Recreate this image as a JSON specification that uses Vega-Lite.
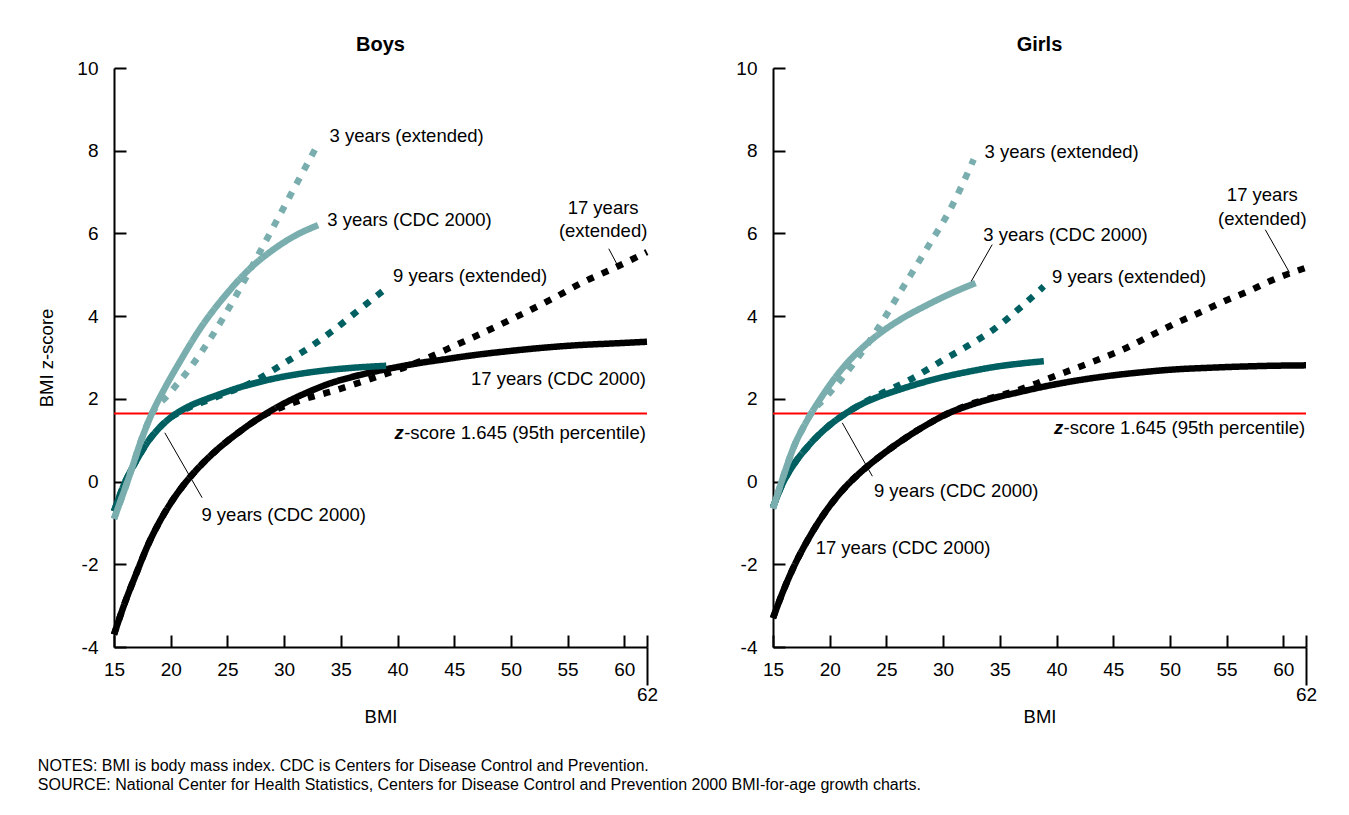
{
  "$schema": "https://vega.github.io/schema/vega-lite/v6.json",
  "padding": {"left": 37, "top": 35, "right": 5, "bottom": 5},
  "config": {
    "font": "Liberation Sans",
    "view": {"stroke": null},
    "axis": {"domainColor": "#000000", "domainWidth": 2, "tickColor": "#000000", "tickWidth": 2, "labelColor": "#000000", "labelFontSize": 19, "titleFontSize": 18.5, "titleColor": "#000000", "titleFontWeight": "normal", "grid": false, "labelFlush": false, "labelOverlap": false},
    "title": {"fontSize": 20, "fontWeight": "bold", "color": "#000000"}
  },
  "title": {"text": ["NOTES: BMI is body mass index. CDC is Centers for Disease Control and Prevention.", "SOURCE: National Center for Health Statistics, Centers for Disease Control and Prevention 2000 BMI-for-age growth charts."], "orient": "bottom", "anchor": "start", "frame": "bounds", "fontSize": 16, "fontWeight": "normal", "lineHeight": 19, "offset": 32, "baseline": "top"},
  "datasets": {
    "curves": [
      {"sex":"Boys","age":"17 years","method":"extended","bmi":15,"z":-3.7},
      {"sex":"Boys","age":"17 years","method":"extended","bmi":16,"z":-2.9},
      {"sex":"Boys","age":"17 years","method":"extended","bmi":17,"z":-2.2},
      {"sex":"Boys","age":"17 years","method":"extended","bmi":18,"z":-1.53},
      {"sex":"Boys","age":"17 years","method":"extended","bmi":19,"z":-0.98},
      {"sex":"Boys","age":"17 years","method":"extended","bmi":20,"z":-0.52},
      {"sex":"Boys","age":"17 years","method":"extended","bmi":21,"z":-0.13},
      {"sex":"Boys","age":"17 years","method":"extended","bmi":22,"z":0.2},
      {"sex":"Boys","age":"17 years","method":"extended","bmi":23,"z":0.49},
      {"sex":"Boys","age":"17 years","method":"extended","bmi":24,"z":0.75},
      {"sex":"Boys","age":"17 years","method":"extended","bmi":25,"z":0.98},
      {"sex":"Boys","age":"17 years","method":"extended","bmi":26,"z":1.19},
      {"sex":"Boys","age":"17 years","method":"extended","bmi":27,"z":1.39},
      {"sex":"Boys","age":"17 years","method":"extended","bmi":28,"z":1.57},
      {"sex":"Boys","age":"17 years","method":"extended","bmi":30,"z":1.82},
      {"sex":"Boys","age":"17 years","method":"extended","bmi":31.5,"z":1.97},
      {"sex":"Boys","age":"17 years","method":"extended","bmi":34.45,"z":2.2},
      {"sex":"Boys","age":"17 years","method":"extended","bmi":36.5,"z":2.38},
      {"sex":"Boys","age":"17 years","method":"extended","bmi":38.7,"z":2.58},
      {"sex":"Boys","age":"17 years","method":"extended","bmi":41,"z":2.8},
      {"sex":"Boys","age":"17 years","method":"extended","bmi":43,"z":3.03},
      {"sex":"Boys","age":"17 years","method":"extended","bmi":45,"z":3.28},
      {"sex":"Boys","age":"17 years","method":"extended","bmi":47.4,"z":3.58},
      {"sex":"Boys","age":"17 years","method":"extended","bmi":50,"z":3.92},
      {"sex":"Boys","age":"17 years","method":"extended","bmi":51.8,"z":4.16},
      {"sex":"Boys","age":"17 years","method":"extended","bmi":54,"z":4.47},
      {"sex":"Boys","age":"17 years","method":"extended","bmi":56.2,"z":4.8},
      {"sex":"Boys","age":"17 years","method":"extended","bmi":59,"z":5.15},
      {"sex":"Boys","age":"17 years","method":"extended","bmi":62,"z":5.55},

      {"sex":"Boys","age":"17 years","method":"CDC 2000","bmi":15,"z":-3.7},
      {"sex":"Boys","age":"17 years","method":"CDC 2000","bmi":16,"z":-2.9},
      {"sex":"Boys","age":"17 years","method":"CDC 2000","bmi":17,"z":-2.2},
      {"sex":"Boys","age":"17 years","method":"CDC 2000","bmi":18,"z":-1.53},
      {"sex":"Boys","age":"17 years","method":"CDC 2000","bmi":19,"z":-0.98},
      {"sex":"Boys","age":"17 years","method":"CDC 2000","bmi":20,"z":-0.52},
      {"sex":"Boys","age":"17 years","method":"CDC 2000","bmi":21,"z":-0.13},
      {"sex":"Boys","age":"17 years","method":"CDC 2000","bmi":22,"z":0.2},
      {"sex":"Boys","age":"17 years","method":"CDC 2000","bmi":23,"z":0.49},
      {"sex":"Boys","age":"17 years","method":"CDC 2000","bmi":24,"z":0.75},
      {"sex":"Boys","age":"17 years","method":"CDC 2000","bmi":25,"z":0.98},
      {"sex":"Boys","age":"17 years","method":"CDC 2000","bmi":26,"z":1.19},
      {"sex":"Boys","age":"17 years","method":"CDC 2000","bmi":27,"z":1.39},
      {"sex":"Boys","age":"17 years","method":"CDC 2000","bmi":28,"z":1.57},
      {"sex":"Boys","age":"17 years","method":"CDC 2000","bmi":29,"z":1.74},
      {"sex":"Boys","age":"17 years","method":"CDC 2000","bmi":30,"z":1.89},
      {"sex":"Boys","age":"17 years","method":"CDC 2000","bmi":32,"z":2.15},
      {"sex":"Boys","age":"17 years","method":"CDC 2000","bmi":34,"z":2.37},
      {"sex":"Boys","age":"17 years","method":"CDC 2000","bmi":36,"z":2.53},
      {"sex":"Boys","age":"17 years","method":"CDC 2000","bmi":38,"z":2.66},
      {"sex":"Boys","age":"17 years","method":"CDC 2000","bmi":40,"z":2.77},
      {"sex":"Boys","age":"17 years","method":"CDC 2000","bmi":42,"z":2.87},
      {"sex":"Boys","age":"17 years","method":"CDC 2000","bmi":44,"z":2.95},
      {"sex":"Boys","age":"17 years","method":"CDC 2000","bmi":46,"z":3.03},
      {"sex":"Boys","age":"17 years","method":"CDC 2000","bmi":48,"z":3.1},
      {"sex":"Boys","age":"17 years","method":"CDC 2000","bmi":50,"z":3.16},
      {"sex":"Boys","age":"17 years","method":"CDC 2000","bmi":53,"z":3.24},
      {"sex":"Boys","age":"17 years","method":"CDC 2000","bmi":56,"z":3.3},
      {"sex":"Boys","age":"17 years","method":"CDC 2000","bmi":59,"z":3.34},
      {"sex":"Boys","age":"17 years","method":"CDC 2000","bmi":62,"z":3.38},

      {"sex":"Boys","age":"9 years","method":"extended","bmi":15,"z":-0.72},
      {"sex":"Boys","age":"9 years","method":"extended","bmi":16,"z":0.0},
      {"sex":"Boys","age":"9 years","method":"extended","bmi":17,"z":0.52},
      {"sex":"Boys","age":"9 years","method":"extended","bmi":18,"z":0.97},
      {"sex":"Boys","age":"9 years","method":"extended","bmi":19,"z":1.3},
      {"sex":"Boys","age":"9 years","method":"extended","bmi":20,"z":1.55},
      {"sex":"Boys","age":"9 years","method":"extended","bmi":21,"z":1.71},
      {"sex":"Boys","age":"9 years","method":"extended","bmi":23.6,"z":2.0},
      {"sex":"Boys","age":"9 years","method":"extended","bmi":25,"z":2.15},
      {"sex":"Boys","age":"9 years","method":"extended","bmi":27.1,"z":2.39},
      {"sex":"Boys","age":"9 years","method":"extended","bmi":30.05,"z":2.87},
      {"sex":"Boys","age":"9 years","method":"extended","bmi":32,"z":3.2},
      {"sex":"Boys","age":"9 years","method":"extended","bmi":34.45,"z":3.68},
      {"sex":"Boys","age":"9 years","method":"extended","bmi":36.5,"z":4.13},
      {"sex":"Boys","age":"9 years","method":"extended","bmi":38.86,"z":4.64},

      {"sex":"Boys","age":"9 years","method":"CDC 2000","bmi":15,"z":-0.72},
      {"sex":"Boys","age":"9 years","method":"CDC 2000","bmi":16,"z":0.0},
      {"sex":"Boys","age":"9 years","method":"CDC 2000","bmi":17,"z":0.52},
      {"sex":"Boys","age":"9 years","method":"CDC 2000","bmi":18,"z":0.97},
      {"sex":"Boys","age":"9 years","method":"CDC 2000","bmi":19,"z":1.3},
      {"sex":"Boys","age":"9 years","method":"CDC 2000","bmi":20,"z":1.55},
      {"sex":"Boys","age":"9 years","method":"CDC 2000","bmi":21,"z":1.73},
      {"sex":"Boys","age":"9 years","method":"CDC 2000","bmi":22,"z":1.87},
      {"sex":"Boys","age":"9 years","method":"CDC 2000","bmi":23,"z":1.98},
      {"sex":"Boys","age":"9 years","method":"CDC 2000","bmi":24,"z":2.08},
      {"sex":"Boys","age":"9 years","method":"CDC 2000","bmi":26,"z":2.27},
      {"sex":"Boys","age":"9 years","method":"CDC 2000","bmi":28,"z":2.42},
      {"sex":"Boys","age":"9 years","method":"CDC 2000","bmi":30,"z":2.54},
      {"sex":"Boys","age":"9 years","method":"CDC 2000","bmi":32,"z":2.63},
      {"sex":"Boys","age":"9 years","method":"CDC 2000","bmi":34,"z":2.7},
      {"sex":"Boys","age":"9 years","method":"CDC 2000","bmi":36,"z":2.75},
      {"sex":"Boys","age":"9 years","method":"CDC 2000","bmi":39,"z":2.8},

      {"sex":"Boys","age":"3 years","method":"extended","bmi":15,"z":-0.9},
      {"sex":"Boys","age":"3 years","method":"extended","bmi":16.25,"z":0.05},
      {"sex":"Boys","age":"3 years","method":"extended","bmi":17.4,"z":1.0},
      {"sex":"Boys","age":"3 years","method":"extended","bmi":18.3,"z":1.62},
      {"sex":"Boys","age":"3 years","method":"extended","bmi":19.78,"z":2.1},
      {"sex":"Boys","age":"3 years","method":"extended","bmi":21.8,"z":2.78},
      {"sex":"Boys","age":"3 years","method":"extended","bmi":23.6,"z":3.5},
      {"sex":"Boys","age":"3 years","method":"extended","bmi":25.6,"z":4.42},
      {"sex":"Boys","age":"3 years","method":"extended","bmi":27.7,"z":5.47},
      {"sex":"Boys","age":"3 years","method":"extended","bmi":30.35,"z":6.82},
      {"sex":"Boys","age":"3 years","method":"extended","bmi":33,"z":8.17},

      {"sex":"Boys","age":"3 years","method":"CDC 2000","bmi":15,"z":-0.9},
      {"sex":"Boys","age":"3 years","method":"CDC 2000","bmi":16.25,"z":0.05},
      {"sex":"Boys","age":"3 years","method":"CDC 2000","bmi":17.4,"z":1.0},
      {"sex":"Boys","age":"3 years","method":"CDC 2000","bmi":18.3,"z":1.62},
      {"sex":"Boys","age":"3 years","method":"CDC 2000","bmi":19.5,"z":2.27},
      {"sex":"Boys","age":"3 years","method":"CDC 2000","bmi":20.66,"z":2.83},
      {"sex":"Boys","age":"3 years","method":"CDC 2000","bmi":22.7,"z":3.74},
      {"sex":"Boys","age":"3 years","method":"CDC 2000","bmi":25.06,"z":4.58},
      {"sex":"Boys","age":"3 years","method":"CDC 2000","bmi":27.1,"z":5.18},
      {"sex":"Boys","age":"3 years","method":"CDC 2000","bmi":29,"z":5.6},
      {"sex":"Boys","age":"3 years","method":"CDC 2000","bmi":31,"z":5.95},
      {"sex":"Boys","age":"3 years","method":"CDC 2000","bmi":33,"z":6.2},

      {"sex":"Girls","age":"17 years","method":"extended","bmi":15,"z":-3.3},
      {"sex":"Girls","age":"17 years","method":"extended","bmi":16,"z":-2.58},
      {"sex":"Girls","age":"17 years","method":"extended","bmi":16.85,"z":-2.05},
      {"sex":"Girls","age":"17 years","method":"extended","bmi":18.3,"z":-1.3},
      {"sex":"Girls","age":"17 years","method":"extended","bmi":19.5,"z":-0.78},
      {"sex":"Girls","age":"17 years","method":"extended","bmi":21.26,"z":-0.17},
      {"sex":"Girls","age":"17 years","method":"extended","bmi":22.7,"z":0.22},
      {"sex":"Girls","age":"17 years","method":"extended","bmi":24.2,"z":0.56},
      {"sex":"Girls","age":"17 years","method":"extended","bmi":26.4,"z":1.0},
      {"sex":"Girls","age":"17 years","method":"extended","bmi":28.6,"z":1.38},
      {"sex":"Girls","age":"17 years","method":"extended","bmi":30.37,"z":1.64},
      {"sex":"Girls","age":"17 years","method":"extended","bmi":32.5,"z":1.88},
      {"sex":"Girls","age":"17 years","method":"extended","bmi":34.47,"z":2.04},
      {"sex":"Girls","age":"17 years","method":"extended","bmi":36.5,"z":2.2},
      {"sex":"Girls","age":"17 years","method":"extended","bmi":38,"z":2.35},
      {"sex":"Girls","age":"17 years","method":"extended","bmi":39.2,"z":2.48},
      {"sex":"Girls","age":"17 years","method":"extended","bmi":41.5,"z":2.72},
      {"sex":"Girls","age":"17 years","method":"extended","bmi":43.7,"z":2.95},
      {"sex":"Girls","age":"17 years","method":"extended","bmi":45.9,"z":3.2},
      {"sex":"Girls","age":"17 years","method":"extended","bmi":48.1,"z":3.5},
      {"sex":"Girls","age":"17 years","method":"extended","bmi":50.3,"z":3.8},
      {"sex":"Girls","age":"17 years","method":"extended","bmi":52.5,"z":4.07},
      {"sex":"Girls","age":"17 years","method":"extended","bmi":54.7,"z":4.35},
      {"sex":"Girls","age":"17 years","method":"extended","bmi":56.9,"z":4.6},
      {"sex":"Girls","age":"17 years","method":"extended","bmi":59.1,"z":4.88},
      {"sex":"Girls","age":"17 years","method":"extended","bmi":62,"z":5.17},

      {"sex":"Girls","age":"17 years","method":"CDC 2000","bmi":15,"z":-3.3},
      {"sex":"Girls","age":"17 years","method":"CDC 2000","bmi":16,"z":-2.58},
      {"sex":"Girls","age":"17 years","method":"CDC 2000","bmi":16.85,"z":-2.05},
      {"sex":"Girls","age":"17 years","method":"CDC 2000","bmi":18.3,"z":-1.3},
      {"sex":"Girls","age":"17 years","method":"CDC 2000","bmi":19.5,"z":-0.78},
      {"sex":"Girls","age":"17 years","method":"CDC 2000","bmi":21.26,"z":-0.17},
      {"sex":"Girls","age":"17 years","method":"CDC 2000","bmi":22.7,"z":0.22},
      {"sex":"Girls","age":"17 years","method":"CDC 2000","bmi":24.2,"z":0.56},
      {"sex":"Girls","age":"17 years","method":"CDC 2000","bmi":26.4,"z":1.0},
      {"sex":"Girls","age":"17 years","method":"CDC 2000","bmi":28.6,"z":1.38},
      {"sex":"Girls","age":"17 years","method":"CDC 2000","bmi":30.37,"z":1.64},
      {"sex":"Girls","age":"17 years","method":"CDC 2000","bmi":32.5,"z":1.86},
      {"sex":"Girls","age":"17 years","method":"CDC 2000","bmi":34.47,"z":2.02},
      {"sex":"Girls","age":"17 years","method":"CDC 2000","bmi":36.5,"z":2.15},
      {"sex":"Girls","age":"17 years","method":"CDC 2000","bmi":38.6,"z":2.28},
      {"sex":"Girls","age":"17 years","method":"CDC 2000","bmi":41.5,"z":2.43},
      {"sex":"Girls","age":"17 years","method":"CDC 2000","bmi":44.46,"z":2.55},
      {"sex":"Girls","age":"17 years","method":"CDC 2000","bmi":47.4,"z":2.64},
      {"sex":"Girls","age":"17 years","method":"CDC 2000","bmi":50.33,"z":2.71},
      {"sex":"Girls","age":"17 years","method":"CDC 2000","bmi":53.3,"z":2.75},
      {"sex":"Girls","age":"17 years","method":"CDC 2000","bmi":56.2,"z":2.78},
      {"sex":"Girls","age":"17 years","method":"CDC 2000","bmi":59,"z":2.8},
      {"sex":"Girls","age":"17 years","method":"CDC 2000","bmi":62,"z":2.81},

      {"sex":"Girls","age":"9 years","method":"extended","bmi":15,"z":-0.62},
      {"sex":"Girls","age":"9 years","method":"extended","bmi":15.9,"z":-0.02},
      {"sex":"Girls","age":"9 years","method":"extended","bmi":16.85,"z":0.42},
      {"sex":"Girls","age":"9 years","method":"extended","bmi":18.3,"z":0.92},
      {"sex":"Girls","age":"9 years","method":"extended","bmi":19.8,"z":1.32},
      {"sex":"Girls","age":"9 years","method":"extended","bmi":21.26,"z":1.62},
      {"sex":"Girls","age":"9 years","method":"extended","bmi":24.2,"z":2.08},
      {"sex":"Girls","age":"9 years","method":"extended","bmi":27.13,"z":2.47},
      {"sex":"Girls","age":"9 years","method":"extended","bmi":30.07,"z":2.95},
      {"sex":"Girls","age":"9 years","method":"extended","bmi":32.3,"z":3.3},
      {"sex":"Girls","age":"9 years","method":"extended","bmi":34.47,"z":3.68},
      {"sex":"Girls","age":"9 years","method":"extended","bmi":36.7,"z":4.18},
      {"sex":"Girls","age":"9 years","method":"extended","bmi":38.88,"z":4.72},

      {"sex":"Girls","age":"9 years","method":"CDC 2000","bmi":15,"z":-0.62},
      {"sex":"Girls","age":"9 years","method":"CDC 2000","bmi":15.9,"z":-0.02},
      {"sex":"Girls","age":"9 years","method":"CDC 2000","bmi":16.85,"z":0.42},
      {"sex":"Girls","age":"9 years","method":"CDC 2000","bmi":18.3,"z":0.92},
      {"sex":"Girls","age":"9 years","method":"CDC 2000","bmi":19.8,"z":1.32},
      {"sex":"Girls","age":"9 years","method":"CDC 2000","bmi":21.26,"z":1.62},
      {"sex":"Girls","age":"9 years","method":"CDC 2000","bmi":22.73,"z":1.86},
      {"sex":"Girls","age":"9 years","method":"CDC 2000","bmi":24.2,"z":2.04},
      {"sex":"Girls","age":"9 years","method":"CDC 2000","bmi":25.66,"z":2.18},
      {"sex":"Girls","age":"9 years","method":"CDC 2000","bmi":28,"z":2.38},
      {"sex":"Girls","age":"9 years","method":"CDC 2000","bmi":30.07,"z":2.53},
      {"sex":"Girls","age":"9 years","method":"CDC 2000","bmi":32.3,"z":2.66},
      {"sex":"Girls","age":"9 years","method":"CDC 2000","bmi":34.47,"z":2.77},
      {"sex":"Girls","age":"9 years","method":"CDC 2000","bmi":36.7,"z":2.85},
      {"sex":"Girls","age":"9 years","method":"CDC 2000","bmi":38.88,"z":2.91},

      {"sex":"Girls","age":"3 years","method":"extended","bmi":15,"z":-0.65},
      {"sex":"Girls","age":"3 years","method":"extended","bmi":16,"z":0.2},
      {"sex":"Girls","age":"3 years","method":"extended","bmi":16.85,"z":0.85},
      {"sex":"Girls","age":"3 years","method":"extended","bmi":17.73,"z":1.34},
      {"sex":"Girls","age":"3 years","method":"extended","bmi":18.3,"z":1.62},
      {"sex":"Girls","age":"3 years","method":"extended","bmi":19.8,"z":2.08},
      {"sex":"Girls","age":"3 years","method":"extended","bmi":22.1,"z":2.85},
      {"sex":"Girls","age":"3 years","method":"extended","bmi":24.2,"z":3.68},
      {"sex":"Girls","age":"3 years","method":"extended","bmi":26.25,"z":4.6},
      {"sex":"Girls","age":"3 years","method":"extended","bmi":28.6,"z":5.65},
      {"sex":"Girls","age":"3 years","method":"extended","bmi":30.66,"z":6.6},
      {"sex":"Girls","age":"3 years","method":"extended","bmi":32.7,"z":7.79},

      {"sex":"Girls","age":"3 years","method":"CDC 2000","bmi":15,"z":-0.65},
      {"sex":"Girls","age":"3 years","method":"CDC 2000","bmi":16,"z":0.2},
      {"sex":"Girls","age":"3 years","method":"CDC 2000","bmi":16.85,"z":0.85},
      {"sex":"Girls","age":"3 years","method":"CDC 2000","bmi":17.73,"z":1.34},
      {"sex":"Girls","age":"3 years","method":"CDC 2000","bmi":18.3,"z":1.62},
      {"sex":"Girls","age":"3 years","method":"CDC 2000","bmi":19.2,"z":2.01},
      {"sex":"Girls","age":"3 years","method":"CDC 2000","bmi":20.2,"z":2.41},
      {"sex":"Girls","age":"3 years","method":"CDC 2000","bmi":21.26,"z":2.78},
      {"sex":"Girls","age":"3 years","method":"CDC 2000","bmi":22.7,"z":3.19},
      {"sex":"Girls","age":"3 years","method":"CDC 2000","bmi":24.2,"z":3.54},
      {"sex":"Girls","age":"3 years","method":"CDC 2000","bmi":26.3,"z":3.93},
      {"sex":"Girls","age":"3 years","method":"CDC 2000","bmi":28.6,"z":4.27},
      {"sex":"Girls","age":"3 years","method":"CDC 2000","bmi":30.7,"z":4.55},
      {"sex":"Girls","age":"3 years","method":"CDC 2000","bmi":32.86,"z":4.8}
    ],
    "threshold": [
      {"sex":"Boys","bmi":15,"bmi2":62,"z":1.645},
      {"sex":"Girls","bmi":15,"bmi2":62,"z":1.645}
    ],
    "leaders": [
      {"sex":"Boys","bmi":58.63,"z":5.63,"bmi2":59.48,"z2":5.19},
      {"sex":"Boys","bmi":19.48,"z":1.18,"bmi2":22.77,"z2":-0.39},
      {"sex":"Girls","bmi":34.33,"z":5.73,"bmi2":32.48,"z2":4.84},
      {"sex":"Girls","bmi":58.41,"z":6.09,"bmi2":60.55,"z2":5.05},
      {"sex":"Girls","bmi":21.11,"z":1.42,"bmi2":23.76,"z2":0.13}
    ],
    "endLabels": [
      {"sex":"Boys","label":"3 years (extended)","bmi":34.0,"z":8.35},
      {"sex":"Boys","label":"3 years (CDC 2000)","bmi":33.8,"z":6.32},
      {"sex":"Boys","label":"9 years (extended)","bmi":39.6,"z":4.97},
      {"sex":"Boys","label":"9 years (CDC 2000)","bmi":22.71,"z":-0.8},
      {"sex":"Girls","label":"3 years (extended)","bmi":33.65,"z":7.96},
      {"sex":"Girls","label":"3 years (CDC 2000)","bmi":33.54,"z":5.97},
      {"sex":"Girls","label":"9 years (extended)","bmi":39.6,"z":4.95},
      {"sex":"Girls","label":"9 years (CDC 2000)","bmi":23.9,"z":-0.23},
      {"sex":"Girls","label":"17 years (CDC 2000)","bmi":18.76,"z":-1.6}
    ],
    "rightLabels": [
      {"sex":"Boys","label":"17 years (CDC 2000)","bmi":61.9,"z":2.49},
      {"sex":"Boys","label":"-score 1.645 (95th percentile)","bmi":61.9,"z":1.18},
      {"sex":"Girls","label":"-score 1.645 (95th percentile)","bmi":61.93,"z":1.3}
    ],
    "zLetters": [
      {"sex":"Boys","label":"z","bmi":61.9,"z":1.18},
      {"sex":"Girls","label":"z","bmi":61.93,"z":1.3}
    ],
    "blockLabels": [
      {"sex":"Boys","label":"17 years","bmi":58.13,"z":6.62},
      {"sex":"Boys","label":"(extended)","bmi":58.13,"z":6.05},
      {"sex":"Girls","label":"17 years","bmi":58.15,"z":6.94},
      {"sex":"Girls","label":"(extended)","bmi":58.15,"z":6.35}
    ]
  },
  "bounds": "flush",
  "spacing": 126,
  "hconcat": [
    {
      "width": 533, "height": 579,
      "title": {"text": "Boys", "frame": "group", "offset": 4},
      "resolve": {"axis": {"x": "independent"}},
      "encoding": {
        "y": {"field": "z", "type": "quantitative", "scale": {"domain": [-4, 10], "nice": false, "zero": false},
              "axis": {"values": [-4, -2, 0, 2, 4, 6, 8, 10], "labelExpr": "'' + datum.value", "tickSize": -12, "labelPadding": 28, "title": "BMI z-score", "titlePadding": 20}}
      },
      "layer": [
        {"data": {"name": "threshold"}, "transform": [{"filter": "datum.sex === 'Boys'"}],
         "mark": {"type": "rule", "color": "#FF0000", "strokeWidth": 2},
         "encoding": {"x": {"field": "bmi", "type": "quantitative", "scale": {"domain": [15, 62], "nice": false, "zero": false}, "axis": null},
                      "x2": {"field": "bmi2"}}},
        {"data": {"name": "curves"}, "transform": [{"filter": "datum.sex === 'Boys'"}],
         "mark": {"type": "line", "strokeWidth": 6.5, "interpolate": "monotone", "strokeCap": "butt"},
         "encoding": {
           "x": {"field": "bmi", "type": "quantitative", "scale": {"domain": [15, 62], "nice": false, "zero": false},
                 "axis": {"values": [15, 20, 25, 30, 35, 40, 45, 50, 55, 60, 62], "labelExpr": "datum.value == 62 ? '' : datum.label", "tickSize": -12, "labelPadding": 25, "title": "BMI", "titlePadding": 28}},
           "color": {"field": "age", "type": "nominal", "scale": {"domain": ["17 years", "9 years", "3 years"], "range": ["#000000", "#005F60", "#7AAEAE"]}, "legend": null},
           "strokeDash": {"field": "method", "type": "nominal", "scale": {"domain": ["CDC 2000", "extended"], "range": [[1, 0], [7, 9]]}, "legend": null}
         }},
        {"data": {"name": "leaders"}, "transform": [{"filter": "datum.sex === 'Boys'"}],
         "mark": {"type": "rule", "color": "#000000", "strokeWidth": 1},
         "encoding": {"x": {"field": "bmi", "type": "quantitative", "scale": {"domain": [15, 62], "nice": false, "zero": false},
                            "axis": {"orient": "bottom", "values": [62], "tickSize": 38, "labelPadding": 0, "domain": false, "title": null}},
                      "x2": {"field": "bmi2"},
                      "y2": {"field": "z2"}}},
        {"data": {"name": "endLabels"}, "transform": [{"filter": "datum.sex === 'Boys'"}],
         "mark": {"type": "text", "align": "left", "baseline": "middle", "fontSize": 18.5, "color": "#000000"},
         "encoding": {"x": {"field": "bmi", "type": "quantitative", "axis": null}, "text": {"field": "label"}}},
        {"data": {"name": "rightLabels"}, "transform": [{"filter": "datum.sex === 'Boys'"}],
         "mark": {"type": "text", "align": "right", "baseline": "middle", "fontSize": 18.5, "color": "#000000"},
         "encoding": {"x": {"field": "bmi", "type": "quantitative", "axis": null}, "text": {"field": "label"}}},
        {"data": {"name": "zLetters"}, "transform": [{"filter": "datum.sex === 'Boys'"}],
         "mark": {"type": "text", "align": "right", "baseline": "middle", "fontSize": 18.5, "fontStyle": "italic", "fontWeight": "bold", "dx": -242, "color": "#000000"},
         "encoding": {"x": {"field": "bmi", "type": "quantitative", "axis": null}, "text": {"field": "label"}}},
        {"data": {"name": "blockLabels"}, "transform": [{"filter": "datum.sex === 'Boys'"}],
         "mark": {"type": "text", "align": "center", "baseline": "middle", "fontSize": 18.5, "color": "#000000"},
         "encoding": {"x": {"field": "bmi", "type": "quantitative", "axis": null}, "text": {"field": "label"}}}
      ]
    },
    {
      "width": 533, "height": 579,
      "title": {"text": "Girls", "frame": "group", "offset": 4},
      "resolve": {"axis": {"x": "independent"}},
      "encoding": {
        "y": {"field": "z", "type": "quantitative", "scale": {"domain": [-4, 10], "nice": false, "zero": false},
              "axis": {"values": [-4, -2, 0, 2, 4, 6, 8, 10], "labelExpr": "'' + datum.value", "tickSize": -12, "labelPadding": 28, "title": null}}
      },
      "layer": [
        {"data": {"name": "threshold"}, "transform": [{"filter": "datum.sex === 'Girls'"}],
         "mark": {"type": "rule", "color": "#FF0000", "strokeWidth": 2},
         "encoding": {"x": {"field": "bmi", "type": "quantitative", "scale": {"domain": [15, 62], "nice": false, "zero": false}, "axis": null},
                      "x2": {"field": "bmi2"}}},
        {"data": {"name": "curves"}, "transform": [{"filter": "datum.sex === 'Girls'"}],
         "mark": {"type": "line", "strokeWidth": 6.5, "interpolate": "monotone", "strokeCap": "butt"},
         "encoding": {
           "x": {"field": "bmi", "type": "quantitative", "scale": {"domain": [15, 62], "nice": false, "zero": false},
                 "axis": {"values": [15, 20, 25, 30, 35, 40, 45, 50, 55, 60, 62], "labelExpr": "datum.value == 62 ? '' : datum.label", "tickSize": -12, "labelPadding": 25, "title": "BMI", "titlePadding": 28}},
           "color": {"field": "age", "type": "nominal", "scale": {"domain": ["17 years", "9 years", "3 years"], "range": ["#000000", "#005F60", "#7AAEAE"]}, "legend": null},
           "strokeDash": {"field": "method", "type": "nominal", "scale": {"domain": ["CDC 2000", "extended"], "range": [[1, 0], [7, 9]]}, "legend": null}
         }},
        {"data": {"name": "leaders"}, "transform": [{"filter": "datum.sex === 'Girls'"}],
         "mark": {"type": "rule", "color": "#000000", "strokeWidth": 1},
         "encoding": {"x": {"field": "bmi", "type": "quantitative", "scale": {"domain": [15, 62], "nice": false, "zero": false},
                            "axis": {"orient": "bottom", "values": [62], "tickSize": 38, "labelPadding": 0, "domain": false, "title": null}},
                      "x2": {"field": "bmi2"},
                      "y2": {"field": "z2"}}},
        {"data": {"name": "endLabels"}, "transform": [{"filter": "datum.sex === 'Girls'"}],
         "mark": {"type": "text", "align": "left", "baseline": "middle", "fontSize": 18.5, "color": "#000000"},
         "encoding": {"x": {"field": "bmi", "type": "quantitative", "axis": null}, "text": {"field": "label"}}},
        {"data": {"name": "rightLabels"}, "transform": [{"filter": "datum.sex === 'Girls'"}],
         "mark": {"type": "text", "align": "right", "baseline": "middle", "fontSize": 18.5, "color": "#000000"},
         "encoding": {"x": {"field": "bmi", "type": "quantitative", "axis": null}, "text": {"field": "label"}}},
        {"data": {"name": "zLetters"}, "transform": [{"filter": "datum.sex === 'Girls'"}],
         "mark": {"type": "text", "align": "right", "baseline": "middle", "fontSize": 18.5, "fontStyle": "italic", "fontWeight": "bold", "dx": -242, "color": "#000000"},
         "encoding": {"x": {"field": "bmi", "type": "quantitative", "axis": null}, "text": {"field": "label"}}},
        {"data": {"name": "blockLabels"}, "transform": [{"filter": "datum.sex === 'Girls'"}],
         "mark": {"type": "text", "align": "center", "baseline": "middle", "fontSize": 18.5, "color": "#000000"},
         "encoding": {"x": {"field": "bmi", "type": "quantitative", "axis": null}, "text": {"field": "label"}}}
      ]
    }
  ]
}
